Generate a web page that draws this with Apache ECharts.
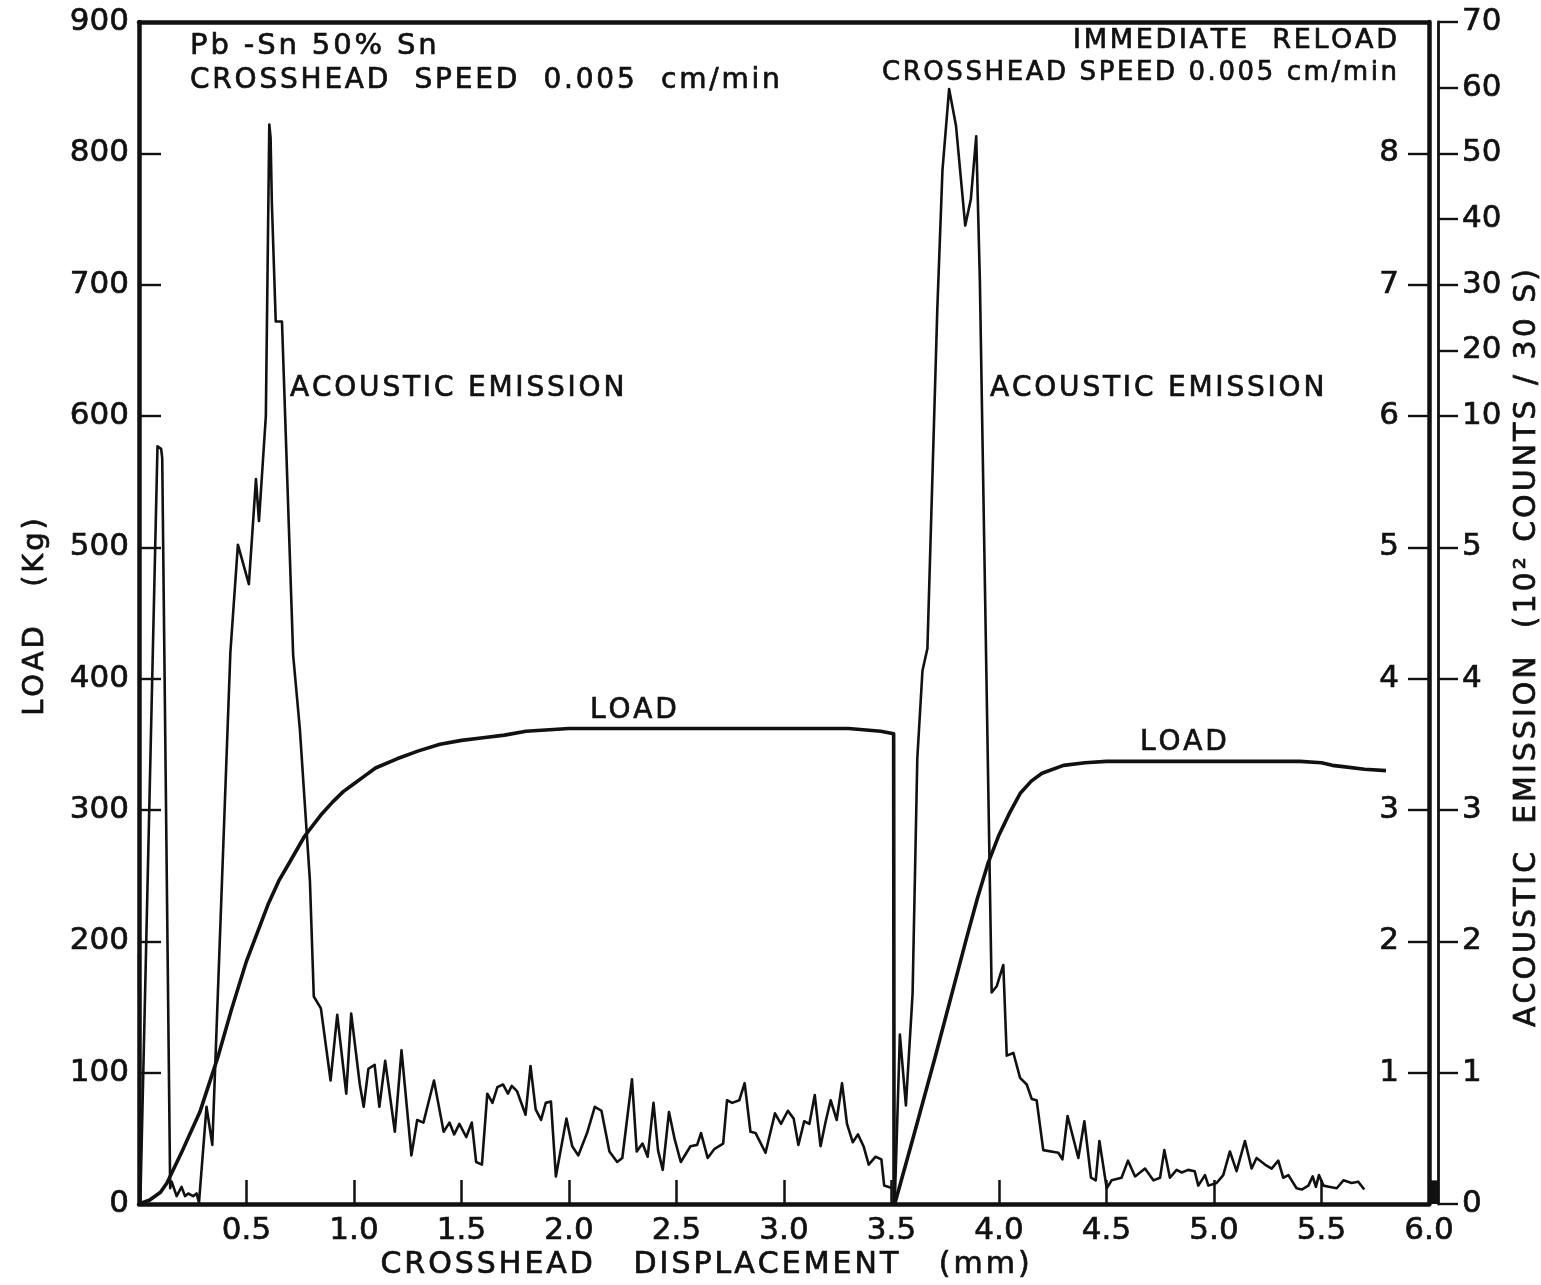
<!DOCTYPE html>
<html><head><meta charset="utf-8">
<script src="https://cdn.jsdelivr.net/npm/echarts@6/dist/echarts.min.js"></script>
<style>html,body{margin:0;padding:0;background:#fff}#c{width:1541px;height:1285px}</style>
</head><body><div id="c"></div>
<script>
// ---- data (x: crosshead displacement, mm) ----
// Load, kg
const loadTest1 = [[0,0],[0.05,3],[0.1,9],[0.13,16],[0.2,40],[0.283,70],[0.367,112],[0.43,148],[0.5,185],[0.6,228],[0.65,246],[0.7,260],[0.77,280],[0.85,297],[0.9,306],[0.95,314],[1.0,320],[1.05,326],[1.1,332],[1.2,339],[1.3,345],[1.4,350],[1.5,353],[1.6,355],[1.7,357],[1.8,360],[2.0,362],[2.5,362],[3.0,362],[3.3,362],[3.45,360],[3.51,358],[3.512,0]];
const loadTest2 = [[3.515,0],[3.6,50],[3.7,110],[3.8,172],[3.85,203],[3.9,233],[3.95,260],[4.0,281],[4.05,298],[4.1,313],[4.15,322],[4.2,328],[4.3,334],[4.4,336],[4.5,337],[5.0,337],[5.4,337],[5.5,336],[5.55,334],[5.6,333],[5.7,331],[5.8,330]];
// Acoustic emission, 10^2 counts / 30 s
const aeTest1 = [[0.0,1.9],[0.003,1.0],[0.006,0],[0.009,0],[0.086,8.85],[0.103,8.75],[0.108,8.4],[0.145,0.12],[0.152,0.17],[0.175,0.06],[0.198,0.13],[0.214,0.06],[0.229,0.08],[0.252,0.06],[0.268,0.08],[0.279,0.01],[0.314,0.74],[0.341,0.45],[0.425,4.2],[0.46,5.1],[0.511,4.72],[0.544,7.6],[0.558,6.0],[0.59,10],[0.606,54.4],[0.612,52.4],[0.618,42.4],[0.636,24.4],[0.665,24.4],[0.717,4.18],[0.748,3.62],[0.795,2.46],[0.813,1.58],[0.846,1.49],[0.891,0.94],[0.922,1.44],[0.964,0.84],[0.987,1.45],[1.027,0.91],[1.045,0.74],[1.067,1.03],[1.096,1.06],[1.118,0.74],[1.145,1.09],[1.19,0.55],[1.221,1.17],[1.267,0.37],[1.294,0.64],[1.323,0.62],[1.372,0.94],[1.417,0.55],[1.444,0.62],[1.466,0.53],[1.49,0.61],[1.522,0.51],[1.548,0.62],[1.568,0.32],[1.595,0.30],[1.62,0.84],[1.644,0.77],[1.667,0.89],[1.693,0.91],[1.716,0.84],[1.734,0.90],[1.758,0.86],[1.798,0.68],[1.821,1.05],[1.845,0.72],[1.87,0.64],[1.892,0.77],[1.916,0.78],[1.939,0.21],[1.988,0.65],[2.015,0.44],[2.043,0.37],[2.084,0.54],[2.12,0.74],[2.151,0.71],[2.188,0.40],[2.224,0.32],[2.248,0.35],[2.293,0.95],[2.315,0.40],[2.342,0.46],[2.366,0.36],[2.393,0.77],[2.414,0.41],[2.436,0.26],[2.465,0.70],[2.492,0.49],[2.52,0.32],[2.565,0.44],[2.596,0.45],[2.614,0.54],[2.645,0.35],[2.677,0.42],[2.717,0.46],[2.735,0.79],[2.759,0.77],[2.792,0.79],[2.817,0.92],[2.844,0.55],[2.868,0.54],[2.914,0.39],[2.958,0.69],[2.986,0.61],[3.018,0.71],[3.045,0.65],[3.067,0.45],[3.094,0.63],[3.118,0.61],[3.143,0.83],[3.17,0.44],[3.194,0.63],[3.217,0.79],[3.245,0.64],[3.27,0.92],[3.293,0.61],[3.32,0.47],[3.344,0.53],[3.37,0.44],[3.394,0.30],[3.426,0.36],[3.453,0.34],[3.466,0.14],[3.505,0.12]];
const aeTest2 = [[3.515,0],[3.539,1.29],[3.567,0.75],[3.598,1.6],[3.62,3.39],[3.644,4.06],[3.667,4.23],[3.713,26.2],[3.737,47.4],[3.768,59.8],[3.8,54.2],[3.843,39],[3.869,43],[3.894,52.6],[3.911,30.6],[3.966,1.61],[3.99,1.66],[4.02,1.82],[4.036,1.13],[4.067,1.15],[4.098,0.96],[4.129,0.91],[4.152,0.80],[4.175,0.79],[4.206,0.41],[4.276,0.39],[4.295,0.34],[4.319,0.67],[4.369,0.35],[4.397,0.63],[4.428,0.20],[4.45,0.18],[4.467,0.48],[4.501,0.12],[4.524,0.18],[4.57,0.20],[4.6,0.33],[4.633,0.21],[4.679,0.27],[4.718,0.18],[4.749,0.20],[4.769,0.41],[4.795,0.20],[4.826,0.26],[4.85,0.24],[4.88,0.26],[4.91,0.25],[4.927,0.14],[4.958,0.22],[4.974,0.14],[5.012,0.16],[5.043,0.22],[5.074,0.40],[5.105,0.25],[5.144,0.48],[5.175,0.27],[5.198,0.35],[5.237,0.30],[5.268,0.27],[5.299,0.33],[5.322,0.20],[5.346,0.22],[5.384,0.12],[5.408,0.11],[5.439,0.14],[5.459,0.21],[5.474,0.13],[5.488,0.22],[5.509,0.14],[5.54,0.13],[5.571,0.12],[5.602,0.18],[5.64,0.16],[5.671,0.17],[5.699,0.11]];
// ticks / labels
const xTickValues = [0.5,1.0,1.5,2.0,2.5,3.0,3.5,4.0,4.5,5.0,5.5,6.0];
const loadTickValues = [0,100,200,300,400,500,600,700,800,900];
const innerRightValues = [1,2,3,4,5,6,7,8];
const aeTickValues = [0,1,2,3,4,5,10,20,30,40,50,60,70];

// printed AE scale: linear to 5, then 5..10 over one division, then 10 per half division
function aeToPos(v){ if (v <= 5) return v; if (v <= 10) return 5 + (v - 5) / 5; return 6 + (v - 10) / 20; }
const aeTickPos = aeTickValues.map(aeToPos);
function aeLabel(p){ for (let i = 0; i < aeTickPos.length; i++) if (Math.abs(aeTickPos[i] - p) < 1e-6) return String(aeTickValues[i]); return ''; }

const FONT = 'DejaVu Sans';
const INK = '#111';
function spaced(s){ return s.split('').join('\u200A'); }
function txt(text, x, y, size, align, rot){
  return { type:'text', x:x, y:y, rotation: rot || 0, z:50,
    style:{ text: text, fill: INK, stroke: INK, lineWidth: 0.7, font: size + 'px "' + FONT + '"', align: align || 'left', verticalAlign:'middle' } };
}
const labelStyle = {color:INK, fontSize:31, fontFamily:FONT, textBorderColor:INK, textBorderWidth:0.7};

const chart = echarts.init(document.getElementById('c'), null, {renderer:'canvas'});
const lineSeries = (name, data, w, axis) => ({
  name, type:'line', data, xAxisIndex:0, yAxisIndex:axis, showSymbol:false, symbol:'none',
  lineStyle:{color:INK, width:w, join:'round'}, itemStyle:{color:INK}, z:5, silent:true
});
chart.setOption({
  animation:false, backgroundColor:'#fff',
  grid:{left:139, right:112, top:22, bottom:81, outerBoundsMode:'none'},
  xAxis:[
    {type:'value', min:0, max:6, interval:0.5, position:'bottom',
     axisLine:{onZero:false, lineStyle:{color:INK, width:4.5}},
     axisTick:{inside:true, length:24, lineStyle:{color:INK, width:2.5}, customValues: xTickValues.slice(0, -1)},
     axisLabel:Object.assign({customValues:xTickValues, formatter:v => v.toFixed(1), margin:11}, labelStyle),
     splitLine:{show:false}},
    {type:'value', min:0, max:6, position:'top',
     axisLine:{onZero:false, lineStyle:{color:INK, width:4.5}}, axisTick:{show:false}, axisLabel:{show:false}, splitLine:{show:false}}
  ],
  yAxis:[
    {type:'value', min:0, max:900, interval:100, position:'left',
     axisLine:{show:true, onZero:false, lineStyle:{color:INK, width:4.5}},
     axisTick:{show:true, inside:true, length:22, lineStyle:{color:INK, width:2.4}, customValues: loadTickValues.slice(1, -1)},
     axisLabel:Object.assign({customValues:loadTickValues, margin:10}, labelStyle),
     splitLine:{show:false}},
    {type:'value', min:0, max:9, interval:1, position:'right',
     axisLine:{show:true, onZero:false, lineStyle:{color:INK, width:4.5}},
     axisTick:{show:true, inside:true, length:21, lineStyle:{color:INK, width:2.4}, customValues:innerRightValues},
     axisLabel:Object.assign({inside:true, customValues:innerRightValues, margin:30}, labelStyle),
     splitLine:{show:false}},
    {type:'value', min:0, max:9, interval:1, position:'right', offset:9,
     axisLine:{show:true, onZero:false, lineStyle:{color:INK, width:2.8}},
     axisTick:{show:true, inside:false, length:20, lineStyle:{color:INK, width:2.4}, customValues:aeTickPos},
     axisLabel:Object.assign({customValues:aeTickPos, formatter:v => aeLabel(v), margin:24}, labelStyle),
     splitLine:{show:false}}
  ],
  series:[
    lineSeries('Load 1', loadTest1, 3.6, 0),
    lineSeries('Load 2', loadTest2, 3.6, 0),
    lineSeries('AE 1', aeTest1.map(d => [d[0], aeToPos(d[1])]), 2.6, 2),
    lineSeries('AE 2', aeTest2.map(d => [d[0], aeToPos(d[1])]), 2.6, 2)
  ],
  graphic:[
    txt(spaced('Pb -Sn 50% Sn'), 190, 46, 29, 'left'),
    txt(spaced('CROSSHEAD  SPEED  0.005  cm/min'), 190, 81, 28, 'left'),
    txt(spaced('IMMEDIATE  RELOAD'), 1397, 41, 27, 'right'),
    txt(spaced('CROSSHEAD SPEED 0.005 cm/min'), 1397, 73, 26, 'right'),
    txt(spaced('ACOUSTIC EMISSION'), 290, 389, 28, 'left'),
    txt(spaced('ACOUSTIC EMISSION'), 990, 389, 28, 'left'),
    txt(spaced('LOAD'), 590, 711, 28, 'left'),
    txt(spaced('LOAD'), 1140, 743, 28, 'left'),
    txt(spaced('CROSSHEAD   DISPLACEMENT   (mm)'), 705, 1265, 30, 'center'),
    txt(spaced('LOAD   (Kg)'), 35, 617, 29, 'center', Math.PI / 2),
    txt(spaced('ACOUSTIC  EMISSION  (10\u00B2 COUNTS / 30 S)'), 1527, 648, 30, 'center', Math.PI / 2)
  ]
});
// solid fill between the double right-hand frame lines at the foot of the axis
const xr = chart.convertToPixel({xAxisIndex:0}, 6);
const y0 = chart.convertToPixel({yAxisIndex:0}, 0);
const y1 = chart.convertToPixel({yAxisIndex:0}, 18);
chart.setOption({graphic:[{type:'rect', id:'foot', z:40, shape:{x:xr, y:y1, width:9, height:y0 - y1}, style:{fill:INK}}]});
</script>
</body></html>
